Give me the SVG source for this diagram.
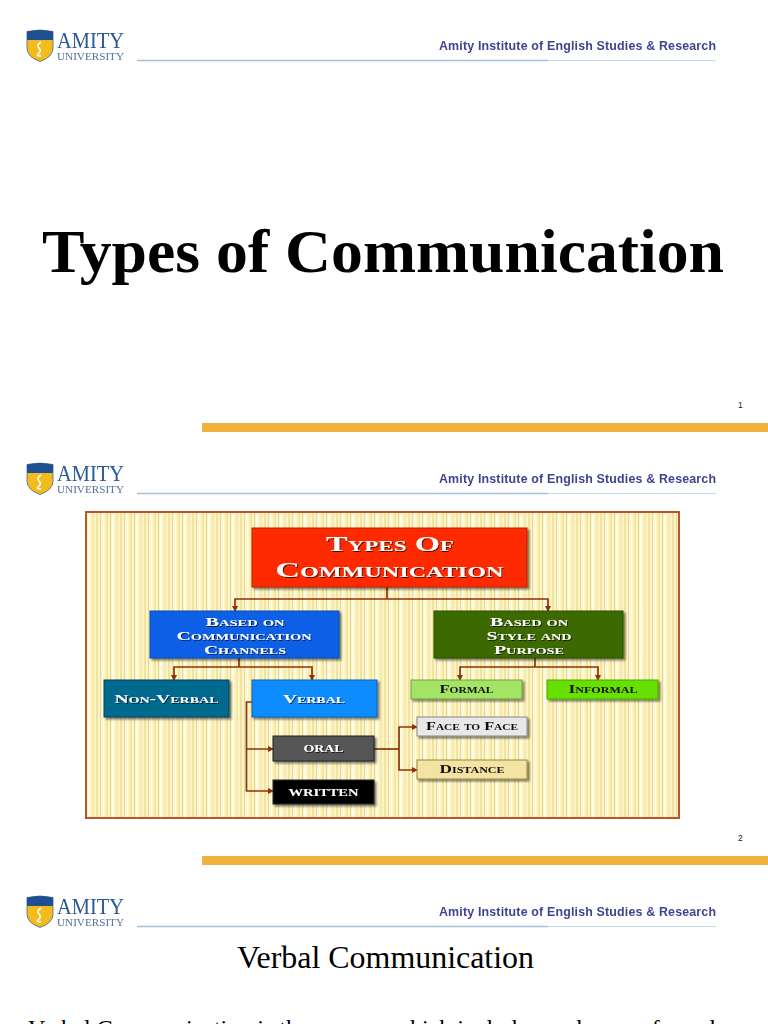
<svg xmlns="http://www.w3.org/2000/svg" width="768" height="1024" viewBox="0 0 768 1024">
<style>
.serif{font-family:"Liberation Serif","Times New Roman",serif}
.sans{font-family:"Liberation Sans",Arial,sans-serif}
.amity{font-size:23px;fill:#2a5a94;filter:url(#blur)}
.univ{font-size:11.2px;fill:#4f7199;filter:url(#blur)}
.inst{font-size:12.4px;font-weight:bold;fill:#3f4392;filter:url(#blur)}
.rule{stroke:#a3c2dc;stroke-width:1.5;fill:none}
.rule2{stroke:#c4d8e8;stroke-width:1.2;fill:none}
.bar{fill:#f0b23c}
.num{font-size:8.5px;fill:#222}
.box{filter:url(#sh)}
.lbl{font-family:"Liberation Serif","Times New Roman",serif;font-weight:bold;font-variant:small-caps;text-anchor:middle}
.w{fill:#fff;filter:url(#ts)}
.d{fill:#111;filter:url(#blur)}
.conn{fill:none;stroke:#8f3208;stroke-width:1.7;marker-end:url(#arr)}
.conn0{fill:none;stroke:#8f3208;stroke-width:1.7}
</style>
<defs>
<pattern id="stripes" width="24" height="8" patternUnits="userSpaceOnUse">
<rect width="24" height="8" fill="#fdf4c4"/>
<rect x="0" width="2" height="8" fill="#f0e2a2"/>
<rect x="4" width="1" height="8" fill="#e2d9a0"/>
<rect x="6" width="2" height="8" fill="#fff9dc"/>
<rect x="10" width="2" height="8" fill="#f8e49a"/>
<rect x="14" width="1" height="8" fill="#ded6a0"/>
<rect x="16" width="2" height="8" fill="#fffbe4"/>
<rect x="20" width="2" height="8" fill="#f6e8a8"/>
</pattern>
<filter id="sh" x="-10%" y="-10%" width="125%" height="130%"><feGaussianBlur in="SourceAlpha" stdDeviation="1"/><feOffset dx="1.5" dy="2"/><feComponentTransfer><feFuncA type="linear" slope=".5"/></feComponentTransfer><feMerge><feMergeNode/><feMergeNode in="SourceGraphic"/></feMerge></filter>
<filter id="blur" x="-5%" y="-20%" width="110%" height="140%"><feGaussianBlur stdDeviation=".3"/></filter>
<filter id="ts" x="-5%" y="-20%" width="112%" height="150%"><feGaussianBlur in="SourceAlpha" stdDeviation=".5"/><feOffset dx=".7" dy=".9"/><feComponentTransfer><feFuncA type="linear" slope=".7"/></feComponentTransfer><feMerge><feMergeNode/><feMergeNode in="SourceGraphic"/></feMerge></filter>
<marker id="arr" markerWidth="6" markerHeight="6" refX="5" refY="3" orient="auto" markerUnits="userSpaceOnUse"><path d="M0 0L6 3L0 6Z" fill="#8f3208"/></marker>
<g id="shield">
<path d="M0 1.500Q13 -1.500 26 1.500V18Q26 27 13 31.500Q0 27 0 18Z" fill="#f4bb1d" stroke="#3f6a8f" stroke-width=".8"/>
<path d="M0 1.500Q13 -1.500 26 1.500V10H0Z" fill="#1f4f93"/>
<path d="M14 12Q9 15 12 18Q15 21 11 24Q9 26 14 26" fill="none" stroke="#fff" stroke-width="1.600"/>
</g>
</defs>
<rect width="768" height="1024" fill="#fff"/>

<g id="header-1">
<use href="#shield" x="27" y="30"/>
<text class="serif amity" x="57" y="47.500" textLength="67" lengthAdjust="spacingAndGlyphs">AMITY</text>
<text class="serif univ" x="57" y="60" textLength="67" lengthAdjust="spacingAndGlyphs">UNIVERSITY</text>
<text class="sans inst" x="439" y="50" textLength="277" lengthAdjust="spacing">Amity Institute of English Studies &amp; Research</text>
<line class="rule" x1="137" y1="60.500" x2="548" y2="60.500"/><line class="rule2" x1="548" y1="60.500" x2="716" y2="60.500"/>
</g>
<text id="title" class="serif" x="383" y="272" text-anchor="middle" font-size="62" font-weight="bold" fill="#000" textLength="682" lengthAdjust="spacingAndGlyphs">Types of Communication</text>
<text class="sans num" x="738" y="408">1</text>
<rect class="bar" x="202" y="423" width="566" height="9"/>

<g id="header-2">
<use href="#shield" x="27" y="463"/>
<text class="serif amity" x="57" y="480.500" textLength="67" lengthAdjust="spacingAndGlyphs">AMITY</text>
<text class="serif univ" x="57" y="493" textLength="67" lengthAdjust="spacingAndGlyphs">UNIVERSITY</text>
<text class="sans inst" x="439" y="483" textLength="277" lengthAdjust="spacing">Amity Institute of English Studies &amp; Research</text>
<line class="rule" x1="137" y1="493.500" x2="548" y2="493.500"/><line class="rule2" x1="548" y1="493.500" x2="716" y2="493.500"/>
</g>

<rect id="frame" x="86" y="512" width="593" height="306" fill="url(#stripes)" stroke="#b9552c" stroke-width="2"/>

<g id="connectors">
<path class="conn0" d="M387 587V599"/>
<path class="conn" d="M387 599H235V611"/>
<path class="conn" d="M387 599H548V611"/>
<path class="conn0" d="M239 658V667"/>
<path class="conn" d="M239 667H174V680"/>
<path class="conn" d="M239 667H312V680"/>
<path class="conn0" d="M535 658V667"/>
<path class="conn" d="M535 667H460V680"/>
<path class="conn" d="M535 667H598V680"/>
<path class="conn" d="M252 702H246.500V749H273"/>
<path class="conn" d="M246.500 749V791H273"/>
<path class="conn0" d="M374 749H399"/>
<path class="conn" d="M399 749V727H417"/>
<path class="conn" d="M399 749V770H417"/>
</g>

<g id="node-types"><rect class="box" x="252" y="528" width="275" height="59" fill="#ff2a00" stroke="#b52000"/>
<text class="lbl w" x="390" y="551" font-size="21" textLength="128" lengthAdjust="spacingAndGlyphs">Types Of</text>
<text class="lbl w" x="389.500" y="577" font-size="21" textLength="228" lengthAdjust="spacingAndGlyphs">Communication</text></g>
<g id="node-channels"><rect class="box" x="150" y="611" width="189" height="47" fill="#0a5fe6" stroke="#0a4aa8"/>
<text class="lbl w" x="245" y="626" font-size="12.500" textLength="79" lengthAdjust="spacingAndGlyphs">Based on</text>
<text class="lbl w" x="244" y="640" font-size="12.500" textLength="135" lengthAdjust="spacingAndGlyphs">Communication</text>
<text class="lbl w" x="245" y="654" font-size="12.500" textLength="82" lengthAdjust="spacingAndGlyphs">Channels</text></g>
<g id="node-style"><rect class="box" x="434" y="611" width="189" height="47" fill="#3d6b05" stroke="#2b4d04"/>
<text class="lbl w" x="529" y="626" font-size="12.500" textLength="78" lengthAdjust="spacingAndGlyphs">Based on</text>
<text class="lbl w" x="529" y="640" font-size="12.500" textLength="85" lengthAdjust="spacingAndGlyphs">Style and</text>
<text class="lbl w" x="529" y="654" font-size="12.500" textLength="70" lengthAdjust="spacingAndGlyphs">Purpose</text></g>
<g id="node-nonverbal"><rect class="box" x="104" y="680" width="125" height="37" fill="#046a8e" stroke="#03455e"/>
<text class="lbl w" x="166.500" y="703" font-size="12.500" textLength="104" lengthAdjust="spacingAndGlyphs">Non-Verbal</text></g>
<g id="node-verbal"><rect class="box" x="252" y="680" width="125" height="37" fill="#0a8cff" stroke="#0a60b8"/>
<text class="lbl w" x="314" y="703" font-size="12.500" textLength="62" lengthAdjust="spacingAndGlyphs">Verbal</text></g>
<g id="node-formal"><rect class="box" x="411" y="680" width="111" height="19" fill="#a4e465" stroke="#6f9f3c"/>
<text class="lbl d" x="466.500" y="693" font-size="11.500" textLength="54" lengthAdjust="spacingAndGlyphs">Formal</text></g>
<g id="node-informal"><rect class="box" x="547" y="680" width="111" height="19" fill="#66e000" stroke="#4da800"/>
<text class="lbl d" x="603" y="693" font-size="11.500" textLength="69" lengthAdjust="spacingAndGlyphs">Informal</text></g>
<g id="node-oral"><rect class="box" x="273" y="736" width="101" height="25" fill="#555" stroke="#222"/>
<text class="lbl w" x="323.500" y="752" font-size="14" textLength="40" lengthAdjust="spacingAndGlyphs">oral</text></g>
<g id="node-written"><rect class="box" x="273" y="780" width="101" height="24" fill="#050505" stroke="#222"/>
<text class="lbl w" x="323.500" y="796" font-size="14" textLength="70" lengthAdjust="spacingAndGlyphs">written</text></g>
<g id="node-face"><rect class="box" x="417" y="717" width="110" height="19" fill="#e8e8e8" stroke="#888"/>
<text class="lbl d" x="472" y="730" font-size="11.500" textLength="92" lengthAdjust="spacingAndGlyphs">Face to Face</text></g>
<g id="node-distance"><rect class="box" x="417" y="760" width="110" height="19" fill="#f5e3a3" stroke="#8f8a45"/>
<text class="lbl d" x="472" y="773" font-size="11.500" textLength="65" lengthAdjust="spacingAndGlyphs">Distance</text></g>

<text class="sans num" x="738" y="841">2</text>
<rect class="bar" x="202" y="856" width="566" height="9"/>

<g id="header-3">
<use href="#shield" x="27" y="896"/>
<text class="serif amity" x="57" y="913.500" textLength="67" lengthAdjust="spacingAndGlyphs">AMITY</text>
<text class="serif univ" x="57" y="926" textLength="67" lengthAdjust="spacingAndGlyphs">UNIVERSITY</text>
<text class="sans inst" x="439" y="916" textLength="277" lengthAdjust="spacing">Amity Institute of English Studies &amp; Research</text>
<line class="rule" x1="137" y1="926.500" x2="548" y2="926.500"/><line class="rule2" x1="548" y1="926.500" x2="716" y2="926.500"/>
</g>
<text class="serif" x="385.500" y="968" text-anchor="middle" font-size="32" fill="#000" textLength="297" lengthAdjust="spacingAndGlyphs">Verbal Communication</text>
<text class="serif" x="28" y="1035.500" font-size="24" fill="#000">Verbal Communication is the process which includes exchange of words</text>
</svg>
